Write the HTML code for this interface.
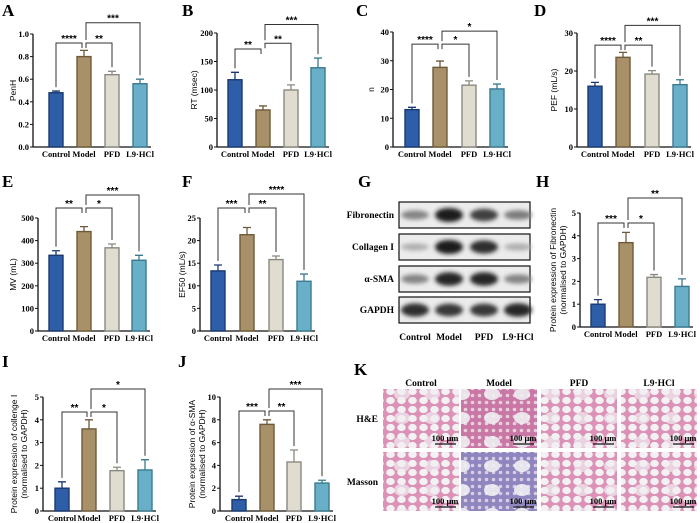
<!DOCTYPE html>
<html><head><meta charset="utf-8"><style>
body{margin:0;background:#fff;}
svg{display:block;}
.pl{font-family:"Liberation Serif",serif;font-weight:bold;font-size:17px;}
.tk{font-family:"Liberation Serif",serif;font-weight:bold;font-size:8.5px;}
.xl{font-family:"Liberation Serif",serif;font-weight:bold;font-size:8.5px;}
.yt{font-family:"Liberation Sans",sans-serif;font-size:8.5px;}
.st{font-family:"Liberation Sans",sans-serif;font-weight:bold;font-size:10px;}
.bl{font-family:"Liberation Serif",serif;font-weight:bold;font-size:9.5px;}
</style></head><body>
<svg id="fig" width="700" height="523" viewBox="0 0 700 523" xmlns="http://www.w3.org/2000/svg">
<defs>
<filter id="blur" x="-50%" y="-100%" width="200%" height="300%"><feGaussianBlur stdDeviation="2.2"/></filter>
<pattern id="alv" width="11" height="9" patternUnits="userSpaceOnUse"><rect width="11" height="9" fill="#dc92b6"/><ellipse cx="5.5" cy="4.5" rx="4.3" ry="3.6" fill="#f3f1f3"/></pattern>
<pattern id="alv2" width="23" height="19" patternUnits="userSpaceOnUse"><ellipse cx="11" cy="9" rx="7" ry="5" fill="#f3f1f3"/></pattern>
<pattern id="alvD" width="7" height="7" patternUnits="userSpaceOnUse"><rect width="7" height="7" fill="#c978a6"/><circle cx="3.5" cy="3.5" r="1.8" fill="#e8cfdc"/></pattern>
<pattern id="alvB" width="7" height="7" patternUnits="userSpaceOnUse"><rect width="7" height="7" fill="#8f86bf"/><circle cx="3.5" cy="3.5" r="1.8" fill="#d9cde3"/></pattern>
<pattern id="holes" width="30" height="24" patternUnits="userSpaceOnUse"><ellipse cx="12" cy="10" rx="8" ry="6" fill="#f0eef2"/></pattern>
</defs>
<g id="root"></g>
</svg>
<script>
const groups = ["Control","Model","PFD","L9·HCl"];
const fills = ["#2f5ea8","#a89068","#e0dccf","#6aafc8"];
const strokes = ["#1b3a70","#6e5a3a","#8a8a80","#3a7a90"];

const meansA = [0.48,0.80,0.64,0.56], errA = [0.015,0.055,0.03,0.04];
const meansB = [118,65,100,139], errB = [13,7,9,17];
const meansC = [13,27.7,21.5,20.2], errC = [0.8,2.2,1.5,1.7];
const meansD = [16,23.6,19.2,16.4], errD = [1,1.3,0.9,1.3];
const meansE = [335,440,368,313], errE = [20,22,17,22];
const meansF = [13.3,21.3,15.8,11.0], errF = [1.3,1.6,0.8,1.6];
const meansH = [1,3.7,2.18,1.78], errH = [0.2,0.45,0.12,0.33];
const meansI = [1,3.6,1.77,1.8], errI = [0.28,0.4,0.15,0.45];
const meansJ = [1,7.6,4.3,2.45], errJ = [0.3,0.4,1.05,0.25];
const sigA = [[0,1,0.92,"****"],[1,2,0.92,"**"],[1,3,1.1,"***"]];
const sigB = [[0,1,172,"**"],[1,2,182,"**"],[1,3,215,"***"]];
const sigC = [[0,1,35.8,"****"],[1,2,35.8,"*"],[1,3,40.3,"*"]];
const sigD = [[0,1,26.8,"****"],[1,2,26.8,"**"],[1,3,32,"***"]];
const sigE = [[0,1,544,"**"],[1,2,544,"*"],[1,3,602,"***"]];
const sigF = [[0,1,27.2,"***"],[1,2,27.2,"**"],[1,3,30.3,"****"]];
const sigH = [[0,1,4.56,"***"],[1,2,4.56,"*"],[1,3,5.66,"**"]];
const sigI = [[0,1,4.34,"**"],[1,2,4.34,"*"],[1,3,5.35,"*"]];
const sigJ = [[0,1,8.77,"***"],[1,2,8.77,"**"],[1,3,10.7,"***"]];
const ticksA=[0,0.2,0.4,0.6,0.8,1.0], ticksB=[0,50,100,150,200], ticksC=[0,10,20,30,40], ticksD=[0,10,20,30],
ticksE=[0,100,200,300,400,500], ticksF=[0,5,10,15,20,25], ticksH=[0,1,2,3,4,5], ticksI=[0,1,2,3,4,5], ticksJ=[0,2,4,6,8,10];

const NS="http://www.w3.org/2000/svg";
const root=document.getElementById('root');
function mk(tag,attrs,parent,txt){const e=document.createElementNS(NS,tag);for(const k in attrs)e.setAttribute(k,attrs[k]);if(txt!==undefined)e.textContent=txt;(parent||root).appendChild(e);return e;}

function panel(cfg){
  const g=mk('g',{});
  
  
  const ymax=cfg.ticks[cfg.ticks.length-1];
  const y=v=>cfg.y0-(v/ymax)*(cfg.y0-cfg.yTop);
  const bw=14;
  const lab=mk('text',{x:cfg.lx,y:cfg.ly,class:'pl'},g,cfg.id);
  
  
  const ax=mk('path',{d:`M${cfg.ax},${cfg.yTop}V${cfg.y0}H${cfg.xs[3]+bw/2+4}`,stroke:'#111',fill:'none','stroke-width':1.3},g);
  
  
  cfg.ticks.forEach(t=>{
    mk('line',{x1:cfg.ax-3,x2:cfg.ax,y1:y(t),y2:y(t),stroke:'#111'},g);
    const tl=mk('text',{x:cfg.ax-4,y:y(t)+3,class:'tk','text-anchor':'end'},g,cfg.dec?t.toFixed(cfg.dec):t);
    
    
  });
  const yt=mk('text',{x:0,y:0,class:'yt','text-anchor':'middle',transform:`translate(${cfg.tx},${(cfg.y0+cfg.yTop)/2}) rotate(-90)`},g);
  cfg.ytitle.forEach((s,i)=>{mk('tspan',{x:0,dy:i?10:0},yt,s);});
  
  
  cfg.means.forEach((m,i)=>{
    const cx=cfg.xs[i];
    const top=y(m+cfg.err[i]);
    mk('path',{d:`M${cx},${y(m)}V${top}M${cx-4},${top}H${cx+4}`,stroke:strokes[i],'stroke-width':1.3,fill:'none'},g);
    const r=mk('rect',{x:cx-bw/2,y:y(m),width:bw,height:cfg.y0-y(m),fill:fills[i],stroke:strokes[i],'stroke-width':1.4},g);
    
    
    const xl=mk('text',{x:cx,y:cfg.y0+10,class:'xl','text-anchor':'middle'},g,groups[i]);
    
    
  });
  const lowY={};
  cfg.sig.forEach((s,k)=>{
    const [a,b,v,txt]=s;const by=y(v);
    const xa=cfg.xs[a]+(a===1?2:0), xb=cfg.xs[b]-(b===1?2:0);
    const leg=(idx)=>{
      if(idx===1){ return (b===3? (lowY.v!==undefined?lowY.v-3:by+6) : by+5); }
      return y(cfg.means[idx]+cfg.err[idx])-4;
    };
    if(b!==3) lowY.v=Math.min(lowY.v===undefined?1e9:lowY.v,by);
    const p=mk('path',{d:`M${xa},${leg(a)}V${by}H${xb}V${leg(b)}`,stroke:'#333',fill:'none','stroke-width':1},g);
    
    
    const t=mk('text',{x:(xa+xb)/2,y:by-1,class:'st','text-anchor':'middle'},g,txt);
    
    
  });
}
panel({id:'A',lx:2,ly:16,ax:33,y0:147,yTop:34,xs:[56,84,112,140],means:meansA,err:errA,sig:sigA,ticks:ticksA,dec:1,tx:16,ytitle:['PenH']});
panel({id:'B',lx:182,ly:16,ax:217,y0:147,yTop:33,xs:[235,263,291,318],means:meansB,err:errB,sig:sigB,ticks:ticksB,tx:197,ytitle:['RT (msec)']});
panel({id:'C',lx:356,ly:16,ax:393,y0:147,yTop:32,xs:[412,440,469,497],means:meansC,err:errC,sig:sigC,ticks:ticksC,tx:374,ytitle:['n']});
panel({id:'D',lx:534,ly:16,ax:577,y0:147,yTop:33,xs:[595,623,652,680],means:meansD,err:errD,sig:sigD,ticks:ticksD,tx:557,ytitle:['PEF (mL/s)']});
panel({id:'E',lx:2,ly:187,ax:38,y0:331,yTop:218,xs:[56,84,112,139],means:meansE,err:errE,sig:sigE,ticks:ticksE,tx:16,ytitle:['MV (mL)']});
panel({id:'F',lx:182,ly:187,ax:200,y0:331,yTop:218,xs:[218,247,276,304],means:meansF,err:errF,sig:sigF,ticks:ticksF,tx:185,ytitle:['EF50 (mL/s)']});
panel({id:'H',lx:536,ly:187,ax:580,y0:327,yTop:213,xs:[598,626,654,682],means:meansH,err:errH,sig:sigH,ticks:ticksH,tx:556,ytitle:['Protein expression of Fibronectin','(normalised to GAPDH)']});
panel({id:'I',lx:2,ly:367,ax:43,y0:511,yTop:397,xs:[62,89,117,145],means:meansI,err:errI,sig:sigI,ticks:ticksI,tx:17,ytitle:['Protein expression of collenge Ⅰ','(normalised to GAPDH)']});
panel({id:'J',lx:178,ly:367,ax:220,y0:511,yTop:397,xs:[239,267,294,322],means:meansJ,err:errJ,sig:sigJ,ticks:ticksJ,tx:195,ytitle:['Protein expression of α-SMA','(normalised to GAPDH)']});

const blotRows=["Fibronectin","Collagen I","α-SMA","GAPDH"];
const blotInt=[[0.4,1,0.8,0.45],[0.15,1,0.9,0.15],[0.4,0.95,0.95,0.4],[0.9,0.85,0.85,0.95]];
const blotY=[202,234,266,297];
const lanes=[415,449,484,518];
const gG=mk('g',{});


mk('text',{x:358,y:187,class:'pl'},gG,'G');
blotRows.forEach((r,ri)=>{
  const y0=blotY[ri];
  mk('rect',{x:399,y:y0,width:131,height:26,fill:'#ececec',stroke:'#111','stroke-width':1.2},gG);
  blotInt[ri].forEach((v,li)=>{
    const c=Math.round(200-170*v);
    mk('ellipse',{cx:lanes[li],cy:y0+13,rx:14,ry:3+4*v,fill:`rgb(${c},${c},${c})`,filter:'url(#blur)'},gG);
  });
  const t=mk('text',{x:394,y:y0+16,class:'bl','text-anchor':'end'},gG,r);
  
  
});
groups.forEach((gname,i)=>{const t=mk('text',{x:lanes[i],y:340,class:'bl','text-anchor':'middle'},gG,gname);});

const gK=mk('g',{});


mk('text',{x:354,y:375,class:'pl'},gK,'K');
const colX=[383,461,541,621], rowY=[389,452], rowName=["H&E","Masson"];
const pats=[["url(#alv)","url(#alvD)","url(#alv)","url(#alv)"],["url(#alv)","url(#alvB)","url(#alv)","url(#alv)"]];
groups.forEach((gname,i)=>{mk('text',{x:colX[i]+38,y:386,class:'bl','text-anchor':'middle'},gK,gname);});
rowName.forEach((rn,r)=>{
  mk('text',{x:378,y:rowY[r]+33,class:'bl','text-anchor':'end'},gK,rn);
  colX.forEach((cx,i)=>{
    const im=mk('rect',{x:cx,y:rowY[r],width:76,height:59,fill:pats[r][i]},gK);
    
    
    mk('rect',{x:cx,y:rowY[r],width:76,height:59,fill:'url(#holes)',opacity:i===1?0.9:0.7},gK);
    mk('text',{x:cx+62,y:rowY[r]+52,class:'tk','text-anchor':'middle','font-size':'7px'},gK,'100 μm');
    mk('line',{x1:cx+52,x2:cx+73,y1:rowY[r]+55,y2:rowY[r]+55,stroke:'#111','stroke-width':1.2},gK);
  });
});
</script>
</body></html>
